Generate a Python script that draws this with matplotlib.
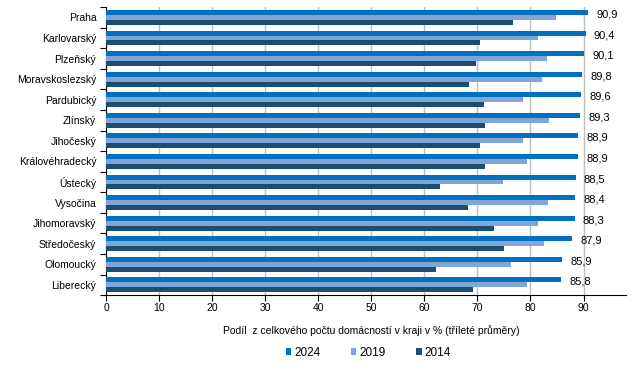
import numpy as np
import matplotlib
matplotlib.use('Agg')
import matplotlib.pyplot as plt

plt.rcParams['font.family'] = ['Liberation Sans', 'DejaVu Sans']

# Regions (top to bottom) and share of households in % (three-year averages)
regions = ['Praha', 'Karlovarský', 'Plzeňský', 'Moravskoslezský', 'Pardubický', 'Zlínský',
           'Jihočeský', 'Královéhradecký', 'Ústecký', 'Vysočina', 'Jihomoravský',
           'Středočeský', 'Olomoucký', 'Liberecký']
y2024 = [90.9, 90.4, 90.1, 89.8, 89.6, 89.3, 88.9, 88.9, 88.5, 88.4, 88.3, 87.9, 85.9, 85.8]
y2019 = [84.8, 81.4, 83.1, 82.2, 78.6, 83.5, 78.6, 79.4, 74.8, 83.3, 81.4, 82.6, 76.4, 79.4]
y2014 = [76.7, 70.5, 69.7, 68.4, 71.3, 71.4, 70.5, 71.4, 63.0, 68.2, 73.1, 75.0, 62.2, 69.2]
x_ticks = [0, 10, 20, 30, 40, 50, 60, 70, 80, 90]

c2024 = '#0070C0'
c2019 = '#7FA6D6'
c2014 = '#1A4F70'

fig = plt.figure(figsize=(6.43, 3.76), dpi=100)
ax = fig.add_axes([0.165, 0.215, 0.8085, 0.766])

pos = np.arange(len(regions))
h = 0.24
ax.barh(pos - h, y2024, height=h, color=c2024, label='2024', zorder=3)
ax.barh(pos, y2019, height=h, color=c2019, label='2019', zorder=3)
ax.barh(pos + h, y2014, height=h, color=c2014, label='2014', zorder=3)

# Value labels for 2024
for p, v in zip(pos, y2024):
    ax.annotate(f'{v:.1f}'.replace('.', ','), xy=(v, p - h * 0.6), xytext=(6, 0),
                textcoords='offset points', va='center', ha='left', fontsize=8)

ax.set_xlim(0, 98)
ax.set_ylim(len(regions) - 0.5, -0.5)
ax.set_xticks(x_ticks)
ax.set_xticklabels([str(t) for t in x_ticks], fontsize=7.5)

# category labels at centres, tick marks at boundaries
ax.set_yticks(np.arange(len(regions) + 1) - 0.5)
ax.set_yticklabels([])
ax.set_yticks(pos, minor=True)
ax.set_yticklabels(regions, minor=True, fontsize=7.5)
ax.tick_params(axis='y', which='minor', length=0, pad=7)
ax.tick_params(axis='y', which='major', length=4, direction='out')
ax.tick_params(axis='x', length=4, direction='out', pad=2)

ax.grid(axis='x', color='#BFBFBF', linewidth=1, zorder=0)
ax.spines['top'].set_visible(False)
ax.spines['right'].set_visible(False)

ax.set_xlabel('Podíl  z celkového počtu domácností v kraji v % (tříleté průměry)',
              fontsize=7.5, labelpad=9)
ax.xaxis.set_label_coords(0.51, -0.105)

handles, labels = ax.get_legend_handles_labels()
fig.legend(handles, labels, loc='center', bbox_to_anchor=(0.573, 0.062), ncol=3,
           frameon=False, fontsize=8.5, handlelength=0.45, handleheight=0.45,
           handletextpad=0.25, columnspacing=2.6)

fig.savefig('out.png', dpi=100)
